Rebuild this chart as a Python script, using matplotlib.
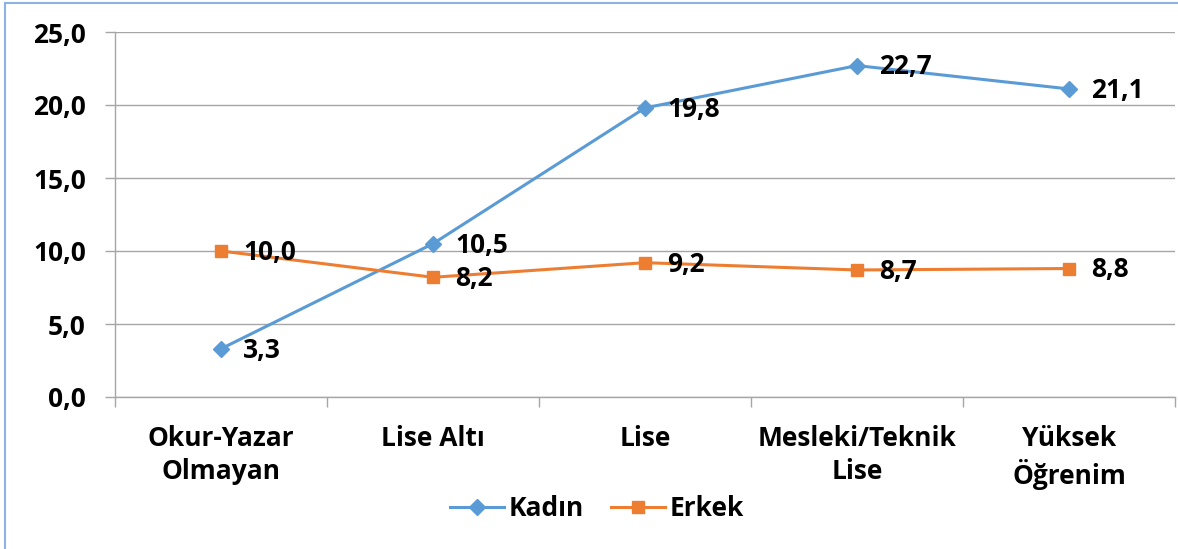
import matplotlib
matplotlib.use("Agg")
import matplotlib.pyplot as plt
from matplotlib.lines import Line2D
import numpy as np

categories = ["Okur-Yazar\nOlmayan", "Lise Altı", "Lise", "Mesleki/Teknik\nLise", "Yüksek\nÖğrenim"]
kadin = [3.3, 10.5, 19.8, 22.7, 21.1]
erkek = [10.0, 8.2, 9.2, 8.7, 8.8]
series_names = ["Kadın", "Erkek"]
yticks = [0, 5, 10, 15, 20, 25]

plt.rcParams['font.family'] = ['Open Sans', 'DejaVu Sans']
plt.rcParams['font.weight'] = 'bold'
FS = 19

W, H = 1178, 549
fig = plt.figure(figsize=(W/100, H/100), dpi=100)
ax = fig.add_axes([115/W, 1-397/H, (1175-115)/W, (397-32)/H])

x = np.arange(len(categories))
blue = '#5B9BD5'
orange = '#ED7D31'
ax.plot(x, kadin, color=blue, lw=2.2, marker='D', ms=8, zorder=3, label=series_names[0])
ax.plot(x, erkek, color=orange, lw=2.2, marker='s', ms=9, zorder=3, label=series_names[1])

def fmt(v):
    return f"{v:.1f}".replace('.', ',')

for xs, vals in ((x, kadin), (x, erkek)):
    for xi, v in zip(xs, vals):
        ax.annotate(fmt(v), (xi, v), xytext=(16, -1), textcoords='offset points',
                    ha='left', va='center', fontsize=FS, fontweight='bold', color='black', zorder=4)

ax.set_xlim(-0.5, len(categories) - 0.5)
ax.set_ylim(0, 25)
ax.set_yticks(yticks)
ax.set_yticklabels([fmt(v) for v in yticks])
ax.set_xticks(x)
ax.set_xticklabels(categories, linespacing=1.3)
ax.set_xticks(np.arange(-0.5, len(categories), 1), minor=True)

ax.grid(axis='y', color='#A6A6A6', lw=1.0, zorder=0)
ax.set_axisbelow(True)
for s in ['top', 'right']:
    ax.spines[s].set_visible(False)
for s in ['left', 'bottom']:
    ax.spines[s].set_color('#A6A6A6')
    ax.spines[s].set_linewidth(1.0)

ax.tick_params(axis='y', which='major', length=7, color='#A6A6A6', width=1, pad=14, labelsize=FS)
ax.tick_params(axis='x', which='major', length=0, pad=20, labelsize=FS)
ax.tick_params(axis='x', which='minor', length=7, color='#A6A6A6', width=1)
for lab in ax.get_xticklabels() + ax.get_yticklabels():
    lab.set_fontweight('bold')

handles = [Line2D([], [], color=blue, lw=2.2, marker='D', ms=8),
           Line2D([], [], color=orange, lw=2.2, marker='s', ms=9)]
fig.legend(handles, series_names, loc='center', bbox_to_anchor=(597/W, 1-509/H), ncol=2,
           frameon=False, prop={'size': FS, 'weight': 'bold'}, handlelength=2.05,
           handletextpad=0.2, columnspacing=1.0)

# chart area border (top & left visible)
fig.add_artist(Line2D([5/W, 1], [1-3/H, 1-3/H], color='#8DB3E2', lw=1.5, transform=fig.transFigure))
fig.add_artist(Line2D([5/W, 5/W], [0, 1-3/H], color='#8DB3E2', lw=1.5, transform=fig.transFigure))

fig.savefig('out.png', dpi=100)
